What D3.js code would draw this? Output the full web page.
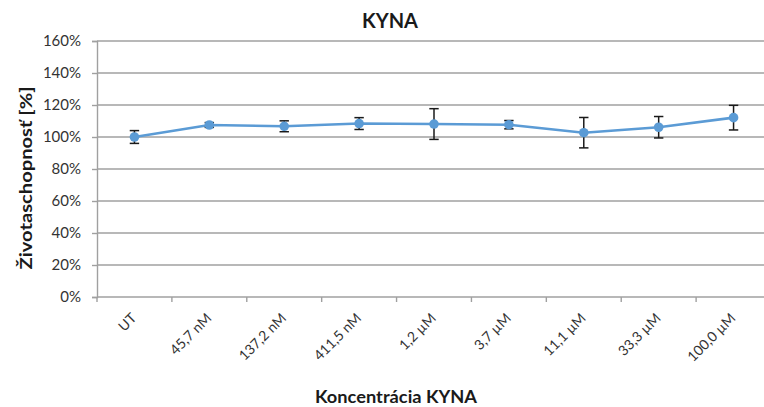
<!DOCTYPE html>
<html><head><meta charset="utf-8">
<script src="https://cdn.jsdelivr.net/npm/d3@7"></script>
<style>body{margin:0;background:#fff}svg{display:block}</style>
</head><body>
<svg id="c" width="764" height="407"></svg>
<script>
const categories = ["UT","45,7 nM","137,2 nM","411,5 nM","1,2 µM","3,7 µM","11,1 µM","33,3 µM","100,0 µM"];
const values = [100, 107.5, 106.7, 108.4, 108.1, 107.7, 102.7, 106.1, 112.1];
const errors = [4, 1.5, 3.4, 3.7, 9.6, 2.6, 9.5, 6.7, 7.7];
const yTicks = [0,20,40,60,80,100,120,140,160];
const chartTitle = "KYNA", xTitle = "Koncentrácia KYNA", yTitle = "Životaschopnosť [%]";

(function(){
const svg = d3.select("#c");
const pL = 97, pR = 771, pT = 41, pB = 297;
const x = d3.scaleBand().domain(categories).range([pL, pR]);
const y = d3.scaleLinear().domain([0,160]).range([pB, pT]);
const font = "Lato, 'Open Sans', sans-serif";
const gridC = "#a0a0a0";

// gridlines
svg.append("g").selectAll("line").data(yTicks.filter(d=>d>0)).join("line")
  .attr("x1", pL).attr("x2", 764).attr("y1", d=>y(d)).attr("y2", d=>y(d))
  .attr("stroke", gridC).attr("stroke-width", 1.4);

// y axis
const ya = svg.append("g").attr("transform", `translate(${pL},0)`)
  .call(d3.axisLeft(y).tickValues(yTicks).tickFormat(d=>d+"%").tickSize(5).tickPadding(11));
ya.select(".domain").attr("stroke", gridC).attr("stroke-width", 1.4);
ya.selectAll(".tick line").attr("stroke", gridC).attr("stroke-width", 1.4);
ya.selectAll("text").attr("font-family", font).attr("font-size", 15).attr("fill", "#333");

// x axis
const xa = svg.append("g").attr("transform", `translate(0,${pB})`)
  .call(d3.axisBottom(x).tickSize(0).tickFormat(""));
xa.select(".domain").attr("stroke", gridC).attr("stroke-width", 1.4).attr("d", `M${pL},0H764`);
svg.append("g").selectAll("line").data(d3.range(categories.length+1)).join("line")
  .attr("x1", i=>pL + i*x.step()).attr("x2", i=>pL + i*x.step())
  .attr("y1", pB).attr("y2", pB+5).attr("stroke", gridC).attr("stroke-width", 1.4);

svg.append("g").selectAll("text").data(categories).join("text")
  .attr("transform", d=>`translate(${x(d)+x.bandwidth()/2+3},${pB+22}) rotate(-45)`)
  .attr("text-anchor", "end").attr("font-family", font).attr("font-size", 14).attr("fill", "#333")
  .text(d=>d);

// line
const cx = (d,i)=>x(categories[i])+x.bandwidth()/2;
svg.append("path").datum(values)
  .attr("d", d3.line().x((d,i)=>cx(d,i)).y(d=>y(d)))
  .attr("fill","none").attr("stroke","#5b9bd5").attr("stroke-width",2.6);

// error bars
const eb = svg.append("g").attr("stroke","#1a1a1a").attr("stroke-width",1.5);
values.forEach((v,i)=>{
  const X = cx(v,i), y1 = y(v+errors[i]), y2 = y(v-errors[i]);
  eb.append("line").attr("x1",X).attr("x2",X).attr("y1",y1).attr("y2",y2);
  eb.append("line").attr("x1",X-4.7).attr("x2",X+4.7).attr("y1",y1).attr("y2",y1);
  eb.append("line").attr("x1",X-4.7).attr("x2",X+4.7).attr("y1",y2).attr("y2",y2);
});

// markers
svg.append("g").selectAll("circle").data(values).join("circle")
  .attr("cx",(d,i)=>cx(d,i)).attr("cy",d=>y(d)).attr("r",4.8).attr("fill","#5b9bd5");

// titles
svg.append("text").attr("x",390).attr("y",28).attr("text-anchor","middle")
  .attr("font-family",font).attr("font-weight","bold").attr("font-size",20).attr("fill","#1a1a1a").text(chartTitle);
svg.append("text").attr("x",396).attr("y",403).attr("text-anchor","middle")
  .attr("font-family",font).attr("font-weight","bold").attr("font-size",16.5).attr("fill","#1a1a1a")
  .attr("textLength",162).attr("lengthAdjust","spacingAndGlyphs").text(xTitle);
svg.append("text").attr("transform","translate(32,178) rotate(-90)").attr("text-anchor","middle")
  .attr("font-family",font).attr("font-weight","bold").attr("font-size",17).attr("fill","#1a1a1a")
  .attr("textLength",183).attr("lengthAdjust","spacingAndGlyphs").text(yTitle);
})();
</script>
</body></html>
